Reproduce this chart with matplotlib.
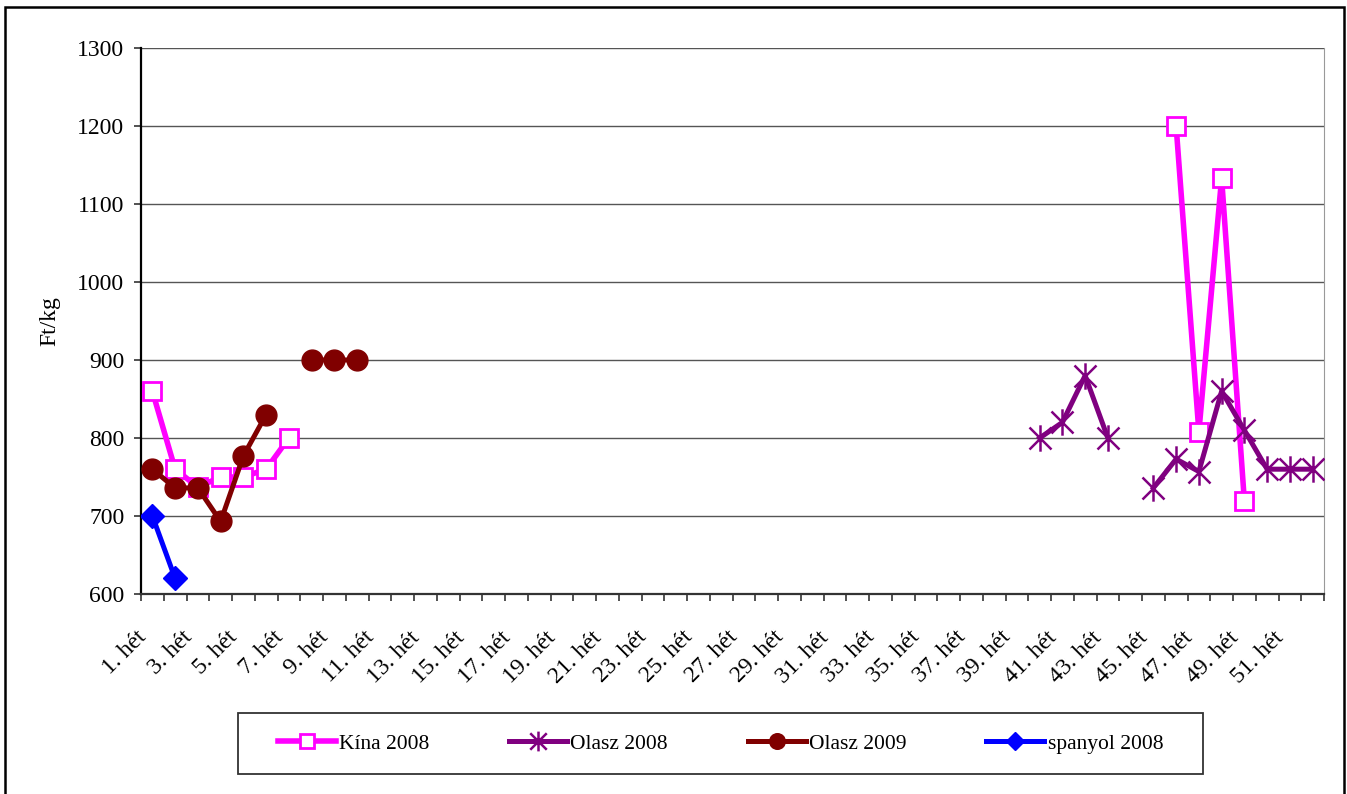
import numpy as np
import pandas as pd
import matplotlib
matplotlib.use("Agg")
import matplotlib.pyplot as plt
from matplotlib.path import Path
from matplotlib.patches import Rectangle
from matplotlib.ticker import FixedLocator, NullFormatter

plt.rcParams["font.family"] = ["Liberation Serif", "DejaVu Serif"]
plt.rcParams["font.size"] = 16

# ---- data (week number -> Ft/kg) ----
weeks = list(range(1, 53))
week_labels = [f"{w}. hét" for w in weeks]

kina_2008_weeks = [1, 2, 3, 4, 5, 6, 7, 46, 47, 48, 49]
kina_2008_values = [860, 760, 737, 750, 750, 760, 800, 1200, 808, 1133, 719]

olasz_2008_weeks = [40, 41, 42, 43, 45, 46, 47, 48, 49, 50, 51, 52]
olasz_2008_values = [800, 820, 880, 800, 736, 773, 757, 860, 810, 760, 760, 760]

olasz_2009_weeks = [1, 2, 3, 4, 5, 6, 8, 9, 10]
olasz_2009_values = [760, 736, 736, 693, 777, 830, 900, 900, 900]

spanyol_2008_weeks = [1, 2]
spanyol_2008_values = [700, 620]

# Excel-like asterisk: an X with a vertical bar
star = Path(
    [(-1, -1), (1, 1), (-1, 1), (1, -1), (0, -1.2), (0, 1.2)],
    [Path.MOVETO, Path.LINETO, Path.MOVETO, Path.LINETO, Path.MOVETO, Path.LINETO],
)

series = [
    ("Kína 2008", kina_2008_weeks, kina_2008_values,
     dict(color="#FF00FF", lw=4.0, marker="s", ms=13.5, mfc="white", mec="#FF00FF", mew=2.0)),
    ("Olasz 2008", olasz_2008_weeks, olasz_2008_values,
     dict(color="#800080", lw=3.6, marker=star, ms=19, mfc="none", mec="#800080", mew=1.8)),
    ("Olasz 2009", olasz_2009_weeks, olasz_2009_values,
     dict(color="#800000", lw=3.6, marker="o", ms=15, mfc="#800000", mec="#800000", mew=1)),
    ("spanyol 2008", spanyol_2008_weeks, spanyol_2008_values,
     dict(color="#0000FF", lw=3.6, marker="D", ms=12.5, mfc="#0000FF", mec="#0000FF", mew=1)),
]

fig = plt.figure(figsize=(13.47, 7.94), dpi=100)
W, H = 1347, 794
ax = fig.add_axes([141 / W, 1 - 594 / H, (1324 - 141) / W, (594 - 48) / H])

x = np.arange(len(weeks))
handles = []
for name, wk, vals, style in series:
    s = pd.Series(vals, index=wk, dtype=float).reindex(weeks)
    (ln,) = ax.plot(x, s.values, label=name, solid_joinstyle="round", zorder=3, **style)
    handles.append(ln)

ax.set_xlim(-0.5, len(weeks) - 0.5)
ax.set_ylim(600, 1300)
ax.set_yticks(np.arange(600, 1301, 100))
ax.yaxis.grid(True, color="#555555", lw=1)
ax.set_axisbelow(True)

# labels on every other category (nudged left like Excel), tick marks on boundaries
ax.xaxis.set_major_locator(FixedLocator(x[::2] - 0.4))
ax.set_xticklabels(week_labels[::2], rotation=45, ha="right", va="center",
                   rotation_mode="anchor")
ax.xaxis.set_minor_locator(FixedLocator(np.arange(-0.5, len(weeks), 1)))
ax.xaxis.set_minor_formatter(NullFormatter())
ax.tick_params(axis="x", which="major", length=0, pad=29, labelsize=17)
ax.tick_params(axis="x", which="minor", length=5, width=1.2, color="#333333")
ax.tick_params(axis="y", length=5, width=1.2, color="#333333", pad=7, labelsize=17)

ax.spines["top"].set_visible(False)
ax.spines["right"].set_color("#999999")
ax.spines["left"].set_linewidth(1.6)
ax.spines["bottom"].set_linewidth(1.6)
ax.spines["bottom"].set_color("#333333")

fig.text(50 / W, 1 - 321 / H, "Ft/kg", rotation=90, ha="center", va="center", fontsize=17)

# legend box
lx0, lx1, ly0, ly1 = 238, 1203, 713, 774
fig.patches.append(Rectangle((lx0 / W, 1 - ly1 / H), (lx1 - lx0) / W, (ly1 - ly0) / H,
                             transform=fig.transFigure, fill=False, ec="#333333", lw=1.3))
fig.legend(handles=handles, loc="center", bbox_to_anchor=((lx0 + lx1) / 2 / W, 1 - (ly0 + ly1) / 2 / H),
           ncol=4, frameon=False, fontsize=15.5, handlelength=2.7, handletextpad=0.15,
           columnspacing=3.7, borderpad=0, markerscale=0.75)

# outer chart border
fig.patches.append(Rectangle((5 / W, -0.02), (1344 - 5) / W, 1.02 - 7 / H,
                             transform=fig.transFigure, fill=False, ec="black", lw=1.8))

fig.savefig("out.png", dpi=100)
